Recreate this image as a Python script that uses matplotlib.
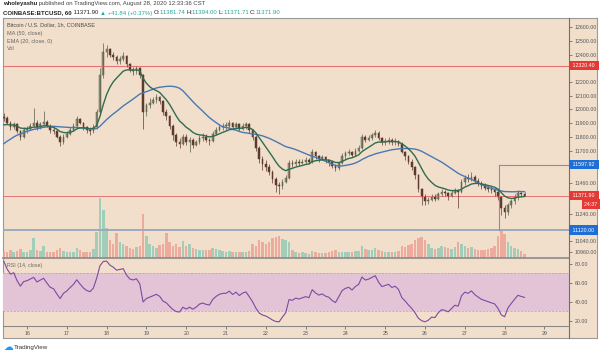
import numpy as np
import pandas as pd
import matplotlib
matplotlib.use("Agg")
import matplotlib.pyplot as plt
from matplotlib.transforms import blended_transform_factory

plt.rcParams['font.family'] = ['Liberation Sans', 'DejaVu Sans']

# --- data: BTCUSD 2-hour bars ---
# warm-up bars (Aug 13 08:00 .. Aug 15 08:00), off screen, only feed the averages
warmup_close = [11420, 11450, 11500, 11480, 11520, 11560, 11600, 11650, 11700, 11720,
                11750, 11770, 11760, 11800, 11780, 11820, 11850, 11800, 11830, 11870,
                11900, 11880, 11920, 11950, 11945]

# visible bars, Aug 15 10:00 .. Aug 28 12:00
close_15 = [11940, 11900, 11870, 11890, 11840, 11800, 11850]
close_16 = [11860, 11880, 11900, 11870, 11890, 11910, 11880, 11850, 11840, 11800, 11760, 11800]
close_17 = [11820, 11850, 11880, 11930, 11900, 11870, 11850, 11840, 11870, 11980, 12250, 12420]
close_18 = [12440, 12400, 12380, 12350, 12370, 12390, 12330, 12290, 12280, 12300, 12250, 11980]
close_19 = [12030, 12050, 12070, 12090, 12060, 11980, 11950, 11880, 11810, 11760, 11750, 11800]
close_20 = [11760, 11780, 11740, 11760, 11790, 11800, 11780, 11770, 11820, 11850, 11870, 11880]
close_21 = [11880, 11900, 11870, 11890, 11860, 11880, 11890, 11850, 11800, 11720, 11640, 11600]
close_22 = [11580, 11540, 11490, 11450, 11440, 11470, 11500, 11610, 11600, 11620, 11610, 11620]
close_23 = [11630, 11620, 11690, 11660, 11640, 11650, 11630, 11620, 11590, 11570, 11610, 11660]
close_24 = [11680, 11690, 11670, 11700, 11720, 11800, 11780, 11790, 11810, 11830, 11790, 11760]
close_25 = [11770, 11780, 11760, 11770, 11750, 11690, 11660, 11620, 11580, 11520, 11420, 11360]
close_26 = [11330, 11340, 11360, 11350, 11380, 11400, 11390, 11370, 11390, 11410, 11400, 11470]
close_27 = [11500, 11490, 11510, 11480, 11460, 11440, 11430, 11420, 11410, 11400, 11360, 11280]
close_28 = [11250, 11300, 11330, 11360, 11390, 11380, 11371.9]

high_15 = [11975, 11950, 11915, 11910, 11900, 11850, 11870]
high_16 = [11880, 11900, 12010, 11920, 11905, 11990, 11920, 11895, 11870, 11850, 11810, 11820]
high_17 = [11840, 11870, 11900, 11950, 11940, 11910, 11880, 11870, 11890, 12000, 12300, 12485]
high_18 = [12470, 12450, 12420, 12400, 12390, 12420, 12400, 12340, 12310, 12320, 12310, 12260]
high_19 = [12050, 12080, 12090, 12110, 12100, 12070, 12000, 11960, 11890, 11830, 11790, 11820]
high_20 = [11820, 11800, 11790, 11780, 11810, 11830, 11820, 11790, 11840, 11870, 11890, 11900]
high_21 = [11910, 11920, 11910, 11910, 11900, 11900, 11910, 11900, 11860, 11810, 11730, 11660]
high_22 = [11630, 11600, 11560, 11510, 11470, 11490, 11520, 11630, 11630, 11640, 11635, 11640]
high_23 = [11650, 11645, 11710, 11700, 11670, 11670, 11660, 11640, 11630, 11600, 11620, 11680]
high_24 = [11700, 11710, 11700, 11720, 11740, 11820, 11810, 11810, 11830, 11850, 11840, 11800]
high_25 = [11790, 11800, 11790, 11790, 11780, 11760, 11700, 11670, 11640, 11590, 11530, 11430]
high_26 = [11380, 11360, 11380, 11380, 11400, 11420, 11410, 11400, 11410, 11430, 11420, 11490]
high_27 = [11520, 11530, 11540, 11520, 11500, 11480, 11460, 11450, 11440, 11430, 11410, 11370]
high_28 = [11300, 11320, 11350, 11380, 11410, 11400, 11394]

low_15 = [11915, 11890, 11850, 11860, 11830, 11780, 11795]
low_16 = [11830, 11850, 11870, 11850, 11860, 11880, 11870, 11830, 11820, 11790, 11730, 11750]
low_17 = [11790, 11810, 11840, 11870, 11890, 11850, 11830, 11810, 11830, 11860, 11970, 12230]
low_18 = [12380, 12380, 12360, 12330, 12330, 12350, 12310, 12270, 12250, 12260, 12230, 11860]
low_19 = [11950, 12010, 12040, 12050, 12040, 11960, 11920, 11860, 11780, 11730, 11720, 11740]
low_20 = [11740, 11690, 11720, 11730, 11750, 11770, 11760, 11740, 11760, 11810, 11840, 11850]
low_21 = [11850, 11860, 11850, 11860, 11840, 11850, 11860, 11830, 11780, 11700, 11610, 11560]
low_22 = [11550, 11520, 11460, 11400, 11380, 11420, 11460, 11490, 11580, 11590, 11590, 11600]
low_23 = [11600, 11600, 11610, 11640, 11620, 11630, 11610, 11590, 11570, 11550, 11560, 11600]
low_24 = [11640, 11670, 11650, 11660, 11690, 11710, 11760, 11770, 11780, 11800, 11780, 11740]
low_25 = [11740, 11750, 11740, 11740, 11730, 11680, 11630, 11600, 11560, 11490, 11400, 11300]
low_26 = [11300, 11310, 11330, 11330, 11340, 11370, 11370, 11340, 11360, 11380, 11280, 11390]
low_27 = [11450, 11470, 11480, 11460, 11440, 11420, 11410, 11400, 11390, 11370, 11340, 11230]
low_28 = [11210, 11230, 11280, 11310, 11340, 11360, 11371.71]

vol_15 = [350, 300, 420, 280, 330, 450, 300]
vol_16 = [300, 380, 1000, 400, 350, 600, 320, 300, 280, 420, 500, 350]
vol_17 = [280, 300, 320, 500, 380, 300, 280, 320, 450, 1300, 3000, 2400]
vol_18 = [1500, 900, 700, 1250, 800, 700, 600, 500, 450, 550, 600, 2200]
vol_19 = [1100, 700, 600, 500, 650, 700, 1250, 800, 600, 700, 550, 850]
vol_20 = [600, 700, 500, 450, 400, 380, 420, 400, 500, 450, 380, 350]
vol_21 = [300, 350, 320, 300, 280, 300, 320, 350, 700, 600, 900, 800]
vol_22 = [700, 800, 1000, 1050, 1100, 950, 900, 800, 400, 300, 250, 280]
vol_23 = [250, 220, 350, 280, 250, 230, 260, 300, 350, 400, 300, 320]
vol_24 = [300, 280, 300, 330, 350, 600, 450, 400, 420, 500, 380, 350]
vol_25 = [320, 300, 280, 300, 350, 600, 550, 650, 700, 900, 1000, 1050]
vol_26 = [900, 700, 500, 450, 500, 600, 550, 500, 450, 550, 800, 700]
vol_27 = [600, 500, 550, 450, 400, 380, 420, 450, 500, 600, 1100, 1350]
vol_28 = [1200, 800, 600, 500, 450, 350, 200]

price_ticks = [12600, 12500, 12400, 12200, 12100, 12000, 11900, 11800, 11700,
               11460, 11240, 11040, 10960]
rsi_ticks = [80, 60, 40, 20]
day_ticks = list(range(16, 30))

resistance = 12320.40
range_top = 11597.92
support = 11120.00
last_price = 11371.90

# --- assemble ---
closes = sum([close_15, close_16, close_17, close_18, close_19, close_20, close_21,
              close_22, close_23, close_24, close_25, close_26, close_27, close_28], [])
highs = sum([high_15, high_16, high_17, high_18, high_19, high_20, high_21,
             high_22, high_23, high_24, high_25, high_26, high_27, high_28], [])
lows = sum([low_15, low_16, low_17, low_18, low_19, low_20, low_21,
            low_22, low_23, low_24, low_25, low_26, low_27, low_28], [])
vols = sum([vol_15, vol_16, vol_17, vol_18, vol_19, vol_20, vol_21,
            vol_22, vol_23, vol_24, vol_25, vol_26, vol_27, vol_28], [])

full = pd.Series(warmup_close + closes, dtype=float)
nw = len(warmup_close)
opens = full.shift(1).iloc[nw:].to_numpy()
closes = np.array(closes)
highs = np.array(highs)
lows = np.array(lows)
vols = np.array(vols)
t = 15 + 10 / 24 + np.arange(len(closes)) * 2 / 24   # day of August

# indicators
ma50 = full.rolling(25, min_periods=1).mean().iloc[nw:].to_numpy()
ema20 = full.ewm(span=10, adjust=False).mean().iloc[nw:].to_numpy()
delta = full.diff()
gain = delta.clip(lower=0).ewm(alpha=1 / 14, adjust=False).mean()
loss = (-delta.clip(upper=0)).ewm(alpha=1 / 14, adjust=False).mean()
rsi = (100 - 100 / (1 + gain / loss)).iloc[nw:].to_numpy()

# --- figure ---
W, H = 600, 355
bg = '#f1dfcc'
txt = '#555555'
fig = plt.figure(figsize=(6, 3.55), dpi=100)
fig.patch.set_facecolor('white')

def box(x0, y0, x1, y1):
    return [x0 / W, 1 - y1 / H, (x1 - x0) / W, (y1 - y0) / H]

frame = fig.add_axes(box(3, 18, 597, 338), zorder=0)
frame.set_facecolor(bg)
frame.set_xticks([])
frame.set_yticks([])
for s in frame.spines.values():
    s.set_color('#9a9a9a')
    s.set_linewidth(0.8)

xlim = (15.397, 29.618)
axv = fig.add_axes(box(3, 18, 569, 258), zorder=1)
axv.set_axis_off()
axv.set_xlim(*xlim)
axv.set_ylim(0, 12000)
up = closes >= opens
axv.bar(t[up], vols[up], width=2 / 24 * 0.75, color='#86c7b3', alpha=0.75, linewidth=0)
axv.bar(t[~up], vols[~up], width=2 / 24 * 0.75, color='#ec9a8e', alpha=0.75, linewidth=0)

ax = fig.add_axes(box(3, 18, 569, 258), zorder=2)
ax.patch.set_visible(False)
ax.set_xlim(*xlim)
ax.set_ylim(10916, 12667)

ax.axhline(resistance, color='#e57373', lw=0.8)
ax.axhline(last_price, color='#e57373', lw=0.7)
ax.axhline(support, color='#9eaabb', lw=1.4)
ax.plot([27.86, 27.86], [support, range_top], color='#8f8f8f', lw=0.8)
ax.plot([27.86, xlim[1]], [range_top, range_top], color='#8f8f8f', lw=0.8)

col = np.where(up, '#55604a', '#5c3a2e')
ax.vlines(t, lows, highs, colors=col, lw=0.5)
body_lo = np.minimum(opens, closes)
body_h = np.maximum(np.abs(closes - opens), 3)
ax.bar(t, body_h, bottom=body_lo, width=2 / 24 * 0.5, color=np.where(up, '#a08f76', '#5c3a2e'),
       edgecolor=col, linewidth=0.35)

ax.plot(t, ma50, color='#4a78b5', lw=1.0)
ax.plot(t, ema20, color='#2f6d50', lw=1.0)

ax.yaxis.tick_right()
ax.set_yticks(price_ticks)
ax.set_yticklabels([f'{v:.2f}' for v in price_ticks])
ax.tick_params(axis='y', labelsize=3.8, colors=txt, length=2, width=0.5, pad=2)
ax.set_xticks([])
for s in ['top', 'left']:
    ax.spines[s].set_visible(False)
ax.spines['right'].set_color('#707070')
ax.spines['right'].set_linewidth(0.8)
ax.spines['bottom'].set_color('#8a8a8a')
ax.spines['bottom'].set_linewidth(1.2)

trans = blended_transform_factory(ax.transAxes, ax.transData)
def tag(y, s, fc, x=1.004):
    ax.text(x, y, s, transform=trans, ha='left', va='center', fontsize=3.8, color='white',
            bbox=dict(boxstyle='square,pad=0.45', fc=fc, ec='none'), clip_on=False)

tag(resistance, ' 12320.40 ', '#e53935')
tag(range_top, ' 11597.92 ', '#1e6ed8')
tag(last_price, ' 11371.90 ', '#e53935')
tag(last_price - 62, '24:37 ', '#e53935', x=1.027)
tag(support, ' 11120.00 ', '#1e6ed8')

# RSI pane
axr = fig.add_axes(box(3, 258, 569, 326), zorder=2)
axr.patch.set_visible(False)
axr.set_xlim(*xlim)
axr.set_ylim(14.7, 86.3)
axr.axhspan(30, 70, color='#e3c3d6', lw=0)
axr.axhline(70, color='#b99cb8', lw=0.5, ls=(0, (3, 2)))
axr.axhline(30, color='#b99cb8', lw=0.5, ls=(0, (3, 2)))
axr.plot(t, rsi, color='#7d4aa3', lw=0.8)
axr.yaxis.tick_right()
axr.set_yticks(rsi_ticks)
axr.set_yticklabels([f'{v:.2f}' for v in rsi_ticks])
axr.tick_params(axis='y', labelsize=3.8, colors=txt, length=2, width=0.5, pad=2)
axr.set_xticks(day_ticks)
axr.set_xticklabels([str(d) for d in day_ticks])
axr.tick_params(axis='x', labelsize=3.8, colors=txt, length=2, width=0.5, pad=1.5)
for s in ['top', 'left']:
    axr.spines[s].set_visible(False)
axr.spines['right'].set_color('#707070')
axr.spines['right'].set_linewidth(0.8)
axr.spines['bottom'].set_color('#8a8a8a')
axr.spines['bottom'].set_linewidth(0.8)
fig.add_artist(plt.Line2D([569 / W, 569 / W], [1 - 338 / H, 1 - 326 / H], color='#707070', lw=0.8))

# header, pieces chained left to right
renderer = fig.canvas.get_renderer()
def chain(y, parts, size=4.3):
    x = 3
    for s, c, w in parts:
        tx = fig.text(x / W, 1 - y / H, s, fontsize=size, color=c, weight=w, va='center')
        x += tx.get_window_extent(renderer).width

chain(4, [('wholeyashu', '#222', 'bold'),
          (' published on TradingView.com, August 28, 2020 12:33:36 CST', '#444', 'normal')])
chain(13, [('COINBASE:BTCUSD, 60', '#222', 'bold'), (' 11371.90 ', '#222', 'normal'),
           ('▲ +41.84 (+0.37%) ', '#26a69a', 'normal'), ('O:', '#222', 'normal'),
           ('11381.74 ', '#26a69a', 'normal'), ('H:', '#222', 'normal'),
           ('11394.00 ', '#26a69a', 'normal'), ('L:', '#222', 'normal'),
           ('11371.71 ', '#26a69a', 'normal'), ('C:', '#222', 'normal'),
           ('11371.90', '#26a69a', 'normal')])

# legends inside chart
for i, s in enumerate(['Bitcoin / U.S. Dollar, 1h, COINBASE', 'MA (50, close)',
                       'EMA (20, close, 0)', 'Vol']):
    fig.text(7 / W, 1 - (25 + 8 * i) / H, s, fontsize=4, color='#4a4a4a' if i == 0 else '#666',
             va='center')
fig.text(7 / W, 1 - 266 / H, 'RSI (14, close)', fontsize=3.8, color='#666', va='center')

# footer logo
fig.text(3 / W, 1 - 347 / H, '☁', fontsize=7, color='#2196f3', va='center',
         family=['DejaVu Sans'])
fig.text(14 / W, 1 - 347 / H, 'TradingView', fontsize=4.5, color='#333', va='center')

fig.savefig('out.png', dpi=100, facecolor='white')
